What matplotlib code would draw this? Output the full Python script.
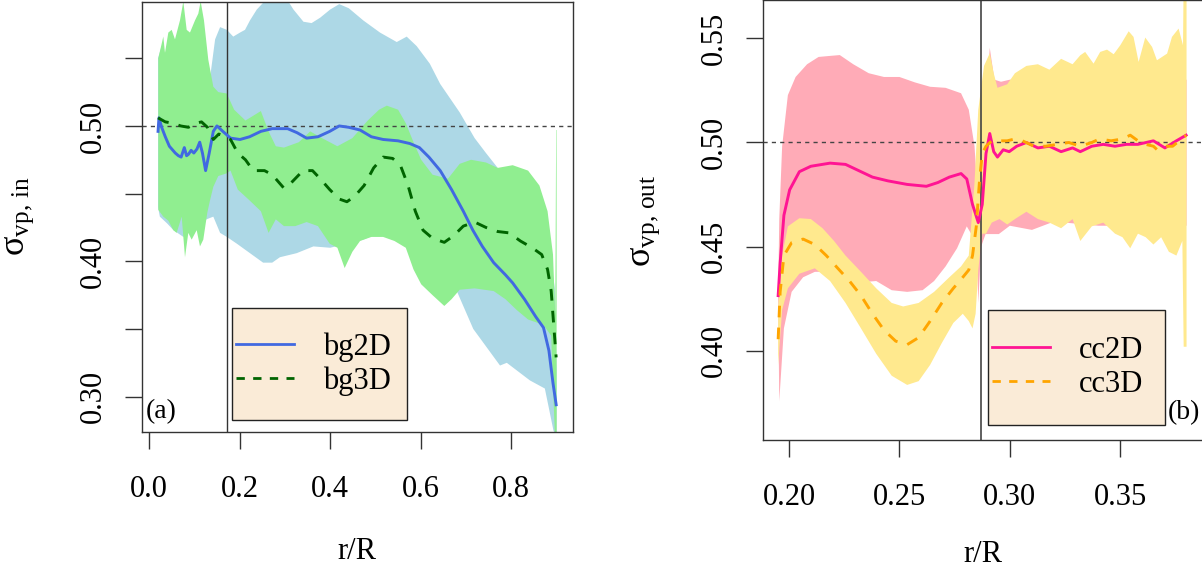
import numpy as np
import matplotlib
matplotlib.use("Agg")
import matplotlib.pyplot as plt
from matplotlib.lines import Line2D
from matplotlib.patches import Rectangle

plt.rcParams['font.family'] = ['Liberation Serif', 'DejaVu Serif']
plt.rcParams['mathtext.fontset'] = 'custom'
plt.rcParams['mathtext.rm'] = 'Liberation Serif'
plt.rcParams['mathtext.it'] = 'Liberation Serif:italic'

# ---------------- panel (a): bg2D / bg3D ----------------
bg2d_x = [0.020, 0.022, 0.028, 0.036, 0.045, 0.058, 0.065, 0.071, 0.078, 0.083,
          0.087, 0.093, 0.099, 0.106, 0.112, 0.118, 0.125, 0.133, 0.142, 0.150,
          0.163, 0.180, 0.201, 0.222, 0.247, 0.272, 0.306, 0.327, 0.348, 0.373,
          0.399, 0.420, 0.441, 0.466, 0.491, 0.517, 0.550, 0.576, 0.597, 0.618,
          0.643, 0.668, 0.694, 0.715, 0.736, 0.761, 0.787, 0.803, 0.829, 0.854,
          0.871, 0.883, 0.892, 0.899]
bg2d_y = [0.496, 0.506, 0.499, 0.492, 0.485, 0.480, 0.478, 0.477, 0.484, 0.478,
          0.479, 0.482, 0.480, 0.483, 0.488, 0.480, 0.467, 0.480, 0.496, 0.500,
          0.496, 0.491, 0.490, 0.492, 0.496, 0.498, 0.498, 0.495, 0.491, 0.492,
          0.496, 0.500, 0.499, 0.497, 0.492, 0.490, 0.489, 0.487, 0.484, 0.477,
          0.467, 0.453, 0.437, 0.423, 0.411, 0.399, 0.390, 0.384, 0.372, 0.359,
          0.351, 0.334, 0.310, 0.294]

bg3d_x = [0.020, 0.036, 0.053, 0.070, 0.087, 0.104, 0.116, 0.129, 0.142, 0.154,
          0.171, 0.180, 0.196, 0.213, 0.230, 0.255, 0.272, 0.298, 0.314, 0.340,
          0.361, 0.378, 0.399, 0.420, 0.437, 0.454, 0.475, 0.496, 0.517, 0.538,
          0.555, 0.572, 0.588, 0.605, 0.626, 0.652, 0.673, 0.694, 0.719, 0.744,
          0.770, 0.795, 0.820, 0.846, 0.867, 0.880, 0.888, 0.894, 0.899]
bg3d_y = [0.506, 0.503, 0.502, 0.500, 0.499, 0.502, 0.503, 0.499, 0.490, 0.494,
          0.492, 0.490, 0.480, 0.475, 0.467, 0.467, 0.464, 0.454, 0.458, 0.467,
          0.467, 0.461, 0.453, 0.446, 0.444, 0.448, 0.456, 0.469, 0.477, 0.476,
          0.471, 0.456, 0.437, 0.423, 0.417, 0.414, 0.419, 0.426, 0.429, 0.425,
          0.422, 0.421, 0.415, 0.410, 0.405, 0.394, 0.378, 0.351, 0.329]

bg2d_up_x = [0.020, 0.028, 0.040, 0.060, 0.080, 0.100, 0.120, 0.135, 0.146, 0.157,
             0.172, 0.186, 0.201, 0.212, 0.223, 0.238, 0.252, 0.270, 0.300, 0.319,
             0.341, 0.359, 0.378, 0.400, 0.420, 0.441, 0.473, 0.510, 0.547, 0.569,
             0.591, 0.620, 0.643, 0.686, 0.719, 0.744, 0.770, 0.800, 0.850, 0.880,
             0.896, 0.900]
bg2d_up_y = [0.550, 0.559, 0.545, 0.540, 0.540, 0.540, 0.530, 0.536, 0.564, 0.573,
             0.571, 0.566, 0.569, 0.571, 0.578, 0.586, 0.591, 0.596, 0.596, 0.586,
             0.577, 0.576, 0.580, 0.586, 0.590, 0.587, 0.578, 0.569, 0.562, 0.566,
             0.559, 0.546, 0.531, 0.510, 0.491, 0.480, 0.469, 0.460, 0.440, 0.420,
             0.380, 0.320]
bg2d_lo_x = [0.020, 0.024, 0.040, 0.054, 0.076, 0.100, 0.127, 0.142, 0.157, 0.172,
             0.194, 0.223, 0.252, 0.272, 0.289, 0.326, 0.363, 0.400, 0.437, 0.473,
             0.510, 0.547, 0.569, 0.600, 0.640, 0.677, 0.716, 0.775, 0.790, 0.841,
             0.874, 0.882, 0.893, 0.900]
bg2d_lo_y = [0.440, 0.433, 0.428, 0.423, 0.418, 0.425, 0.431, 0.433, 0.421, 0.418,
             0.413, 0.406, 0.399, 0.399, 0.403, 0.406, 0.411, 0.410, 0.413, 0.416,
             0.421, 0.418, 0.413, 0.395, 0.385, 0.380, 0.350, 0.323, 0.325, 0.312,
             0.306, 0.293, 0.275, 0.270]

bg3d_up_x = [0.0206, 0.0316, 0.0353, 0.0427, 0.0501, 0.0574, 0.0684, 0.0758, 0.0832, 0.0905,
             0.1016, 0.1089, 0.1141, 0.1214, 0.1309, 0.1420, 0.1530, 0.1716, 0.188, 0.213,
             0.247, 0.264, 0.280, 0.298, 0.331, 0.356, 0.382, 0.416, 0.449, 0.483,
             0.508, 0.525, 0.550, 0.567, 0.584, 0.601, 0.626, 0.660, 0.686, 0.711,
             0.744, 0.770, 0.803, 0.837, 0.862, 0.880, 0.892, 0.897, 0.899, 0.900]
bg3d_up_y = [0.550, 0.566, 0.554, 0.569, 0.571, 0.564, 0.578, 0.592, 0.571, 0.569,
             0.578, 0.583, 0.592, 0.578, 0.549, 0.529, 0.525, 0.524, 0.512, 0.504,
             0.511, 0.496, 0.485, 0.484, 0.488, 0.496, 0.491, 0.485, 0.491, 0.504,
             0.512, 0.515, 0.512, 0.502, 0.488, 0.475, 0.464, 0.461, 0.472, 0.475,
             0.473, 0.469, 0.471, 0.467, 0.456, 0.437, 0.405, 0.360, 0.497, 0.497]
bg3d_lo_x = [0.0206, 0.0316, 0.0427, 0.0537, 0.0611, 0.0722, 0.0795, 0.0868, 0.0942, 0.1053,
             0.1126, 0.1199, 0.1288, 0.1347, 0.1420, 0.1530, 0.1716, 0.180, 0.196, 0.222,
             0.247, 0.264, 0.280, 0.298, 0.323, 0.348, 0.373, 0.399, 0.416, 0.432,
             0.449, 0.466, 0.491, 0.517, 0.542, 0.567, 0.584, 0.601, 0.626, 0.652,
             0.668, 0.686, 0.719, 0.761, 0.787, 0.812, 0.837, 0.871, 0.888, 0.896,
             0.900]
bg3d_lo_y = [0.438, 0.433, 0.430, 0.423, 0.421, 0.433, 0.403, 0.421, 0.416, 0.423,
             0.411, 0.416, 0.436, 0.445, 0.455, 0.463, 0.465, 0.467, 0.453, 0.445,
             0.437, 0.421, 0.431, 0.426, 0.426, 0.429, 0.426, 0.413, 0.410, 0.395,
             0.407, 0.415, 0.418, 0.418, 0.415, 0.410, 0.394, 0.383, 0.375, 0.367,
             0.372, 0.379, 0.380, 0.378, 0.372, 0.364, 0.357, 0.353, 0.345, 0.273,
             0.270]

# ---------------- panel (b): cc2D / cc3D ----------------
cc2d_x = [0.1951, 0.1960, 0.1977, 0.2003, 0.2047, 0.2099, 0.2186, 0.2256, 0.2308, 0.2378,
          0.2448, 0.2535, 0.2622, 0.2674, 0.2726, 0.2779, 0.2805, 0.2831, 0.2857, 0.2875,
          0.2892, 0.2909, 0.2927, 0.2944, 0.2970, 0.2997, 0.3031, 0.3075, 0.3127, 0.3179,
          0.3232, 0.3284, 0.3319, 0.3371, 0.3423, 0.3476, 0.3528, 0.3580, 0.3650, 0.3702,
          0.3754, 0.3798]
cc2d_y = [0.4265, 0.4422, 0.4650, 0.4772, 0.4859, 0.4885, 0.4900, 0.4894, 0.4868, 0.4833,
          0.4815, 0.4798, 0.4789, 0.4807, 0.4833, 0.4850, 0.4824, 0.4702, 0.4615, 0.4702,
          0.4946, 0.5042, 0.4955, 0.4929, 0.4964, 0.4955, 0.4981, 0.4999, 0.4973, 0.4981,
          0.4955, 0.4973, 0.4955, 0.4981, 0.4990, 0.4981, 0.4990, 0.4990, 0.5007, 0.4973,
          0.5007, 0.5034]

cc3d_x = [0.1951, 0.1960, 0.1977, 0.2012, 0.2064, 0.2117, 0.2169, 0.2221, 0.2274, 0.2326,
          0.2378, 0.2430, 0.2483, 0.2535, 0.2587, 0.2639, 0.2692, 0.2744, 0.2787, 0.2814,
          0.2831, 0.2848, 0.2862, 0.2875, 0.2892, 0.2918, 0.2953, 0.2988, 0.3023, 0.3057,
          0.3110, 0.3162, 0.3214, 0.3267, 0.3319, 0.3371, 0.3406, 0.3458, 0.3510, 0.3545,
          0.3580, 0.3615, 0.3650, 0.3667, 0.3702, 0.3737, 0.3767, 0.3798]
cc3d_y = [0.4056, 0.4283, 0.4457, 0.4519, 0.4536, 0.4510, 0.4457, 0.4396, 0.4335, 0.4265,
          0.4178, 0.4100, 0.4047, 0.4030, 0.4064, 0.4143, 0.4230, 0.4300, 0.4353, 0.4388,
          0.4457, 0.4597, 0.4807, 0.4946, 0.4981, 0.5007, 0.5007, 0.5007, 0.5016, 0.5007,
          0.4981, 0.4981, 0.4990, 0.4999, 0.4981, 0.4999, 0.5016, 0.5007, 0.5016, 0.5034,
          0.5007, 0.4990, 0.4981, 0.4964, 0.4981, 0.4981, 0.5007, 0.5034]

cc2d_up_x = [0.1951, 0.1956, 0.1969, 0.1995, 0.2030, 0.2082, 0.2134, 0.2186, 0.2230, 0.2291,
             0.2361, 0.2430, 0.2500, 0.2570, 0.2639, 0.2709, 0.2779, 0.2814, 0.2840, 0.2857,
             0.2875, 0.2900, 0.2909, 0.2930, 0.2960, 0.3000, 0.3400, 0.3800]
cc2d_up_y = [0.4265, 0.4632, 0.4981, 0.5226, 0.5313, 0.5374, 0.5409, 0.5414, 0.5418, 0.5374,
             0.5331, 0.5313, 0.5313, 0.5287, 0.5266, 0.5261, 0.5235, 0.5156, 0.4981, 0.4700,
             0.5100, 0.5300, 0.5453, 0.5300, 0.5290, 0.5300, 0.5280, 0.5300]
cc2d_lo_x = [0.1951, 0.1956, 0.1977, 0.2012, 0.2064, 0.2117, 0.2169, 0.2221, 0.2291, 0.2395,
             0.2465, 0.2535, 0.2605, 0.2657, 0.2709, 0.2761, 0.2805, 0.2831, 0.2850, 0.2857,
             0.2870, 0.2890, 0.2950, 0.3000, 0.3100, 0.3200, 0.3400, 0.3800]
cc2d_lo_y = [0.4265, 0.3759, 0.4108, 0.4283, 0.4353, 0.4379, 0.4379, 0.4353, 0.4326, 0.4335,
             0.4291, 0.4283, 0.4291, 0.4335, 0.4405, 0.4492, 0.4597, 0.4550, 0.4500, 0.4230,
             0.4500, 0.4560, 0.4560, 0.4600, 0.4580, 0.4620, 0.4600, 0.4600]

cc3d_up_x = [0.1951, 0.1969, 0.1995, 0.2047, 0.2099, 0.2152, 0.2204, 0.2256, 0.2326, 0.2395,
             0.2465, 0.2517, 0.2587, 0.2657, 0.2726, 0.2779, 0.2814, 0.2840, 0.2857, 0.2883,
             0.2909, 0.2927, 0.2944, 0.2988, 0.3023, 0.3075, 0.3127, 0.3179, 0.3232, 0.3284,
             0.3319, 0.3341, 0.3379, 0.3409, 0.3440, 0.3470, 0.3500, 0.3538, 0.3560, 0.3583,
             0.3613, 0.3644, 0.3666, 0.3712, 0.3734, 0.3764, 0.3784, 0.3787, 0.3800]
cc3d_up_y = [0.4213, 0.4457, 0.4597, 0.4636, 0.4632, 0.4588, 0.4527, 0.4457, 0.4379, 0.4300,
             0.4230, 0.4213, 0.4230, 0.4283, 0.4353, 0.4405, 0.4457, 0.4807, 0.5156, 0.5366,
             0.5427, 0.5331, 0.5261, 0.5278, 0.5331, 0.5366, 0.5374, 0.5348, 0.5400, 0.5374,
             0.5417, 0.5433, 0.5377, 0.5433, 0.5444, 0.5422, 0.5465, 0.5532, 0.5505, 0.5385,
             0.5502, 0.5457, 0.5393, 0.5425, 0.5505, 0.5545, 0.5465, 0.5800, 0.5800]
cc3d_lo_x = [0.1951, 0.1969, 0.1995, 0.2047, 0.2117, 0.2186, 0.2256, 0.2326, 0.2395, 0.2465,
             0.2535, 0.2587, 0.2639, 0.2692, 0.2744, 0.2787, 0.2814, 0.2831, 0.2845, 0.2857,
             0.2875, 0.2892, 0.2918, 0.2953, 0.2988, 0.3023, 0.3075, 0.3127, 0.3179, 0.3232,
             0.3284, 0.3319, 0.3371, 0.3423, 0.3476, 0.3510, 0.3545, 0.3580, 0.3615, 0.3650,
             0.3685, 0.3720, 0.3754, 0.3781, 0.3787, 0.3800]
cc3d_lo_y = [0.3933, 0.4196, 0.4300, 0.4370, 0.4396, 0.4335, 0.4230, 0.4108, 0.3986, 0.3881,
             0.3837, 0.3855, 0.3933, 0.4038, 0.4134, 0.4178, 0.4143, 0.4108, 0.4178, 0.4388,
             0.4562, 0.4562, 0.4615, 0.4632, 0.4606, 0.4632, 0.4667, 0.4632, 0.4615, 0.4588,
             0.4632, 0.4527, 0.4597, 0.4615, 0.4562, 0.4545, 0.4492, 0.4562, 0.4545, 0.4510,
             0.4545, 0.4475, 0.4457, 0.4527, 0.4020, 0.4020]

split_a = 0.173
split_b = 0.2869

FS = 22
AX_COL = '#333333'
DASH = (0, (4, 3.5))


def band(ax, ux, uy, lx, ly, color):
    xs = np.concatenate([ux, lx[::-1]])
    ys = np.concatenate([uy, ly[::-1]])
    ax.fill(xs, ys, color=color, lw=0, zorder=1)


def style(ax, xticks, xlabels, yticks, ylabels):
    ax.set_xticks(xticks)
    ax.set_xticklabels(xlabels)
    ax.set_yticks(yticks)
    ax.set_yticklabels(ylabels, rotation=90, va='center')
    ax.tick_params(axis='both', direction='out', length=12, width=1,
                   color=AX_COL, labelsize=FS)
    ax.tick_params(axis='x', pad=19)
    ax.tick_params(axis='y', pad=12)
    for sp in ax.spines.values():
        sp.set_color(AX_COL)
        sp.set_linewidth(1)


def legend_box(ax, x0, y0, x1, y1, handles, labels):
    ax.add_patch(Rectangle((x0, y0), x1 - x0, y1 - y0, transform=ax.transAxes,
                           facecolor='#FAEBD7', edgecolor='#222222', lw=1, zorder=5))
    ax.legend(handles, labels, loc='center left', frameon=False,
              bbox_to_anchor=(x0 + 0.01, (y0 + y1) / 2), fontsize=FS,
              handlelength=1.9, handletextpad=0.95, labelspacing=0.15,
              borderpad=0, borderaxespad=0).set_zorder(6)


fig = plt.figure(figsize=(12.02, 5.72), dpi=100)

# panel (a)
ax1 = fig.add_axes([141.7 / 1202, (572 - 431.7) / 572, 431 / 1202, 430 / 572])
band(ax1, bg2d_up_x, bg2d_up_y, bg2d_lo_x, bg2d_lo_y, '#ADD8E6')
band(ax1, bg3d_up_x, bg3d_up_y, bg3d_lo_x, bg3d_lo_y, '#90EE90')
ax1.axhline(0.5, color='#444444', lw=1, ls=(0, (3, 3)), zorder=2)
ax1.axvline(split_a, color='#333333', lw=1, zorder=2)
ax1.plot(bg2d_x, bg2d_y, color='#4169E1', lw=2.1, zorder=3)
ax1.plot(bg3d_x, bg3d_y, color='#006400', lw=2.1, ls=DASH, zorder=3)
ax1.set_xlim(-0.0161, 0.9355)
ax1.set_ylim(0.2741, 0.5918)
style(ax1, [0.0, 0.2, 0.4, 0.6, 0.8], ['0.0', '0.2', '0.4', '0.6', '0.8'],
      [0.30, 0.35, 0.40, 0.45, 0.50, 0.55], ['0.30', '', '0.40', '', '0.50', ''])
ax1.set_xlabel('r/R', fontsize=FS)
ax1.xaxis.set_label_coords(0.5, -0.2786)
ax1.xaxis.label.set_va('center')
ax1.set_ylabel(r'$\mathrm{σ_{vp,\,in}}$', fontsize=FS + 4)
ax1.yaxis.set_label_coords(-0.2824, 0.5)
ax1.yaxis.label.set_va('center')
legend_box(ax1, 0.2095, 0.0279, 0.6149, 0.2877,
           [Line2D([], [], color='#4169E1', lw=2),
            Line2D([], [], color='#006400', lw=2, ls=(0, (3, 3)))],
           ['bg2D', 'bg3D'])
ax1.text(0.0093, 0.0465, '(a)', transform=ax1.transAxes, fontsize=FS - 2,
         ha='left', va='center', zorder=7)

# panel (b)
ax2 = fig.add_axes([762.7 / 1202, (572 - 440) / 572, (1204 - 762.7) / 1202, 439.6 / 572])
band(ax2, cc2d_up_x, cc2d_up_y, cc2d_lo_x, cc2d_lo_y, '#FFABB7')
band(ax2, cc3d_up_x, cc3d_up_y, cc3d_lo_x, cc3d_lo_y, '#FFE98E')
ax2.axhline(0.5, color='#444444', lw=1, ls=(0, (3, 3)), zorder=2)
ax2.axvline(split_b, color='#444444', lw=1.2, zorder=2)
ax2.plot(cc2d_x, cc2d_y, color='#FF1493', lw=2.1, zorder=3)
ax2.plot(cc3d_x, cc3d_y, color='#FFA500', lw=2.1, ls=DASH, zorder=3)
ax2.set_xlim(0.1881, 0.3879)
ax2.set_ylim(0.3573, 0.568)
style(ax2, [0.20, 0.25, 0.30, 0.35], ['0.20', '0.25', '0.30', '0.35'],
      [0.40, 0.45, 0.50, 0.55], ['0.40', '0.45', '0.50', '0.55'])
ax2.set_xlabel('r/R', fontsize=FS)
ax2.xaxis.set_label_coords(0.5, -0.2602)
ax2.xaxis.label.set_va('center')
ax2.set_ylabel(r'$\mathrm{σ_{vp,\,out}}$', fontsize=FS + 4)
ax2.yaxis.set_label_coords(-0.2667, 0.4977)
ax2.yaxis.label.set_va('center')
legend_box(ax2, 0.5099, 0.0341, 0.9123, 0.2968,
           [Line2D([], [], color='#FF1493', lw=2),
            Line2D([], [], color='#FFA500', lw=2, ls=(0, (3, 3)))],
           ['cc2D', 'cc3D'])
ax2.text(0.9184, 0.0614, '(b)', transform=ax2.transAxes, fontsize=FS - 2,
         ha='left', va='center', zorder=7)

fig.savefig('out.png', dpi=100)
